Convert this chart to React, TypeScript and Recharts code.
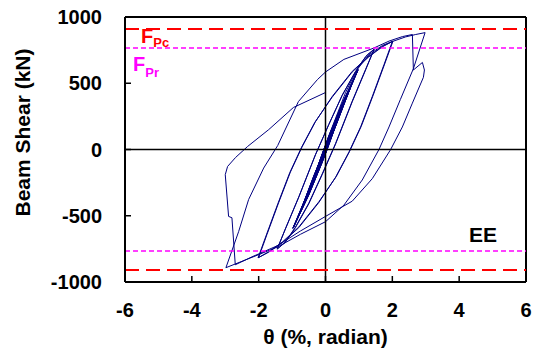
import React from 'react';
import { LineChart, Line, XAxis, YAxis, ReferenceLine } from 'recharts';

// [theta %, shear kN], in loading order
const start: [number, number][] = [[0, 0]];

const cycles0375: [number, number][] = [
  [0.38, 242], [0.01, -8], [-0.37, -236], [-0.01, 9],
  [0.37, 238], [0.02, -6], [-0.38, -240], [-0.02, 7],
  [0.38, 244], [0.01, -9], [-0.37, -238], [0, 6],
];

const cycles05: [number, number][] = [
  [0.5, 318], [0.03, -14], [-0.49, -310], [-0.03, 14],
  [0.51, 322], [0.02, -12], [-0.5, -314], [-0.02, 12],
  [0.5, 320], [0.03, -15], [-0.5, -316], [-0.03, 13],
];

const cycles075: [number, number][] = [
  [0.4, 270], [0.75, 472], [0.35, 205], [-0.05, -45], [-0.4, -262], [-0.75, -465], [-0.35, -200], [0.05, 44],
  [0.4, 268], [0.76, 476], [0.35, 208], [-0.06, -48], [-0.4, -265], [-0.74, -462], [-0.35, -198], [0.06, 46],
  [0.4, 266], [0.75, 470], [0.34, 200], [-0.05, -46], [-0.41, -268], [-0.75, -468], [-0.34, -196], [0.05, 40],
];

const cycles1: [number, number][] = [
  [0.5, 345], [0.97, 602], [0.6, 380], [0.25, 150], [-0.1, -95], [-0.5, -340], [-0.97, -592], [-0.6, -372], [-0.25, -142], [0.1, 102],
  [0.5, 348], [0.96, 598], [0.6, 376], [0.24, 144], [-0.11, -100], [-0.5, -344], [-0.98, -596], [-0.6, -368], [-0.24, -138], [0.11, 106],
  [0.5, 342], [0.98, 604], [0.61, 382], [0.26, 152], [-0.09, -92], [-0.5, -338], [-0.96, -590], [-0.59, -366], [-0.23, -134], [0.1, 100],
  [0.51, 350], [0.97, 600], [0.6, 378], [0.25, 148], [-0.1, -98], [-0.5, -342], [-0.97, -594], [-0.6, -370], [-0.25, -140], [0.1, 104],
];

const cycles15: [number, number][] = [
  [0.6, 430], [1.0, 630], [1.25, 715], [1.45, 756],
  [1.2, 600], [0.8, 360], [0.3, 40], [-0.1, -190], [-0.5, -410], [-0.9, -590], [-1.2, -700], [-1.45, -752],
  [-1.2, -600], [-0.8, -360], [-0.3, -40], [0.1, 190], [0.5, 410], [0.9, 590], [1.2, 700], [1.46, 758],
  [1.2, 605], [0.8, 365], [0.3, 45], [-0.1, -185], [-0.5, -405], [-0.9, -585], [-1.2, -698], [-1.44, -750],
  [-1.2, -598], [-0.8, -358], [-0.3, -38], [0.1, 188], [0.5, 408], [0.9, 588], [1.3, 715],
];

const cycles2: [number, number][] = [
  [1.7, 785], [2.0, 815],
  [1.75, 640], [1.4, 400], [1.05, 170], [0.7, -20], [0.3, -210], [-0.2, -400], [-0.8, -590], [-1.3, -705], [-1.7, -775], [-2.0, -815],
  [-1.75, -640], [-1.4, -400], [-1.05, -170], [-0.7, 20], [-0.3, 210], [0.2, 400], [0.8, 590], [1.3, 705], [1.7, 778], [2.02, 818],
  [1.77, 645], [1.42, 405], [1.07, 175], [0.72, -15], [0.32, -205], [-0.2, -395], [-0.8, -585], [-1.3, -700], [-1.7, -772], [-2.02, -818],
  [-1.77, -645], [-1.42, -405], [-1.07, -175], [-0.72, 15], [-0.32, 205], [0.2, 395], [0.8, 585], [1.3, 700], [1.7, 775], [2.0, 815],
];

const cycle3First: [number, number][] = [
  [2.4, 850], [2.7, 868], [2.98, 882],
  [2.63, 610], [2.24, 377], [1.9, 170], [1.6, 0], [1.1, -230], [0.55, -420], [0, -545], [-0.75, -640], [-1.43, -735], [-2.24, -818], [-2.98, -892],
];

const cycle3Second: [number, number][] = [
  [-2.6, -620], [-2.3, -377], [-1.85, -140], [-1.43, 30], [-0.81, 362], [-0.24, 528], [0, 585], [0.55, 680], [1.44, 765], [1.9, 818], [2.3, 852], [2.6, 868],
  [2.63, 600], [2.9, 657], [2.96, 600], [2.93, 545],
  [2.6, 350], [2.3, 170], [1.95, 0], [1.4, -220], [0.8, -390], [0, -505], [-0.75, -615], [-1.43, -725], [-2.2, -810], [-2.7, -870],
  [-2.8, -515], [-2.9, -505], [-3.0, -190],
  [-2.93, -128], [-2.69, -60], [-2.33, 23], [-1.7, 150], [-0.96, 317], [0, 430],
];

const xTicks = [-6, -4, -2, 0, 2, 4, 6];
const yTicks = [-1000, -500, 0, 500, 1000];
const fpc = 910;
const fpr = 766;

const record = [
  ...start, ...cycles0375, ...cycles05, ...cycles075, ...cycles1,
  ...cycles15, ...cycles2, ...cycle3First, ...cycle3Second,
].map(([theta, shear]) => ({ theta, shear }));

const FONT = '"Liberation Sans", Arial, sans-serif';
const tickStyle = { fill: '#000', fontSize: 20, fontWeight: 'bold', fontFamily: FONT };

const FpcLabel = (props: any) => {
  const { x, y } = props.viewBox;
  return (
    <text x={x + 16} y={y + 14} fill="#FF0000" fontFamily={FONT} fontWeight="bold" fontSize={20}>
      F<tspan fontSize={13} dy={4}>Pc</tspan>
    </text>
  );
};

const FprLabel = (props: any) => {
  const { x, y } = props.viewBox;
  return (
    <text x={x + 8} y={y + 23} fill="#FF00FF" fontFamily={FONT} fontWeight="bold" fontSize={20}>
      F<tspan fontSize={13} dy={6}>Pr</tspan>
    </text>
  );
};

const EeLabel = (props: any) => {
  const { x, y, width } = props.viewBox;
  return (
    <text x={x + width - 43} y={y - 9} textAnchor="middle" fill="#000" fontFamily={FONT} fontWeight="bold" fontSize={21}>
      EE
    </text>
  );
};

const YTitle = (props: any) => {
  const { x, y, height } = props.viewBox;
  const cx = x + 22;
  const cy = y + height / 2 - 17;
  return (
    <text x={cx} y={cy} transform={`rotate(-90 ${cx} ${cy})`} textAnchor="middle" dominantBaseline="central"
      fill="#000" fontFamily={FONT} fontWeight="bold" fontSize={21}>
      Beam Shear (kN)
    </text>
  );
};

export default function App() {
  return (
    <div style={{ position: 'absolute', left: 0, top: 0, width: 534, height: 353, background: '#fff' }}>
      <LineChart width={534} height={353} data={record} margin={{ top: 17, right: 8, bottom: 0, left: 0 }}>
        <XAxis
          dataKey="theta"
          type="number"
          domain={[-6, 6]}
          ticks={xTicks}
          interval={0}
          allowDataOverflow
          height={71}
          tick={tickStyle}
          tickSize={-6}
          tickMargin={27}
          axisLine={{ stroke: '#000', strokeWidth: 2 }}
          tickLine={{ stroke: '#000', strokeWidth: 1.5 }}
          label={{ value: 'θ (%, radian)', position: 'insideBottom', offset: 9, fill: '#000', fontSize: 21, fontWeight: 'bold', fontFamily: FONT }}
        />
        <YAxis
          dataKey="shear"
          type="number"
          domain={[-1000, 1000]}
          ticks={yTicks}
          interval={0}
          allowDataOverflow
          width={125}
          tick={tickStyle}
          tickSize={-6}
          tickMargin={29}
          axisLine={{ stroke: '#000', strokeWidth: 2 }}
          tickLine={{ stroke: '#000', strokeWidth: 1.5 }}
          label={{ content: YTitle }}
        />
        <Line
          dataKey="shear"
          stroke="#000080"
          strokeWidth={1}
          dot={false}
          activeDot={false}
          type="linear"
          isAnimationActive={false}
        />
        <ReferenceLine y={0} stroke="#000" strokeWidth={1.5} />
        <ReferenceLine x={0} stroke="#000" strokeWidth={1.5} />
        <ReferenceLine y={1000} stroke="#000" strokeWidth={2} />
        <ReferenceLine x={6} stroke="#000" strokeWidth={2} />
        <ReferenceLine y={fpc} stroke="#FF0000" strokeWidth={2} strokeDasharray="14 7" label={{ content: FpcLabel }} />
        <ReferenceLine y={-fpc} stroke="#FF0000" strokeWidth={2} strokeDasharray="14 7" />
        <ReferenceLine y={fpr} stroke="#FF00FF" strokeWidth={1.5} strokeDasharray="5 3" label={{ content: FprLabel }} />
        <ReferenceLine y={-fpr} stroke="#FF00FF" strokeWidth={1.5} strokeDasharray="5 3" label={{ content: EeLabel }} />
      </LineChart>
    </div>
  );
}
